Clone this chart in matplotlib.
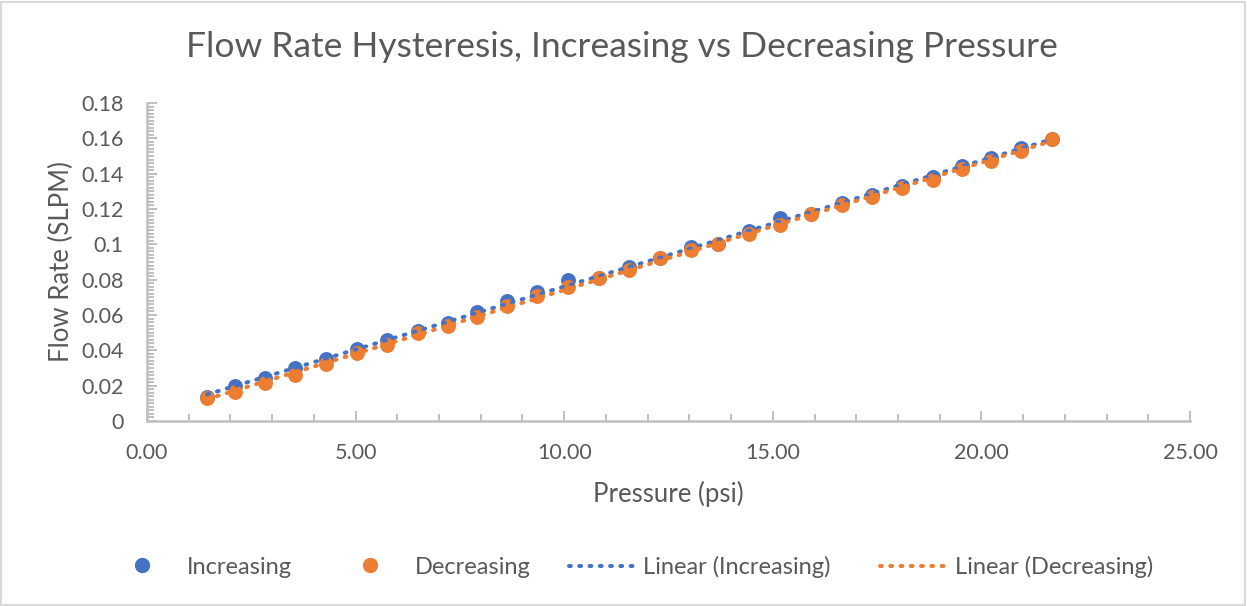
import numpy as np
import matplotlib.pyplot as plt
from matplotlib.ticker import MultipleLocator, FuncFormatter
from matplotlib.lines import Line2D
from matplotlib.patches import Rectangle

# readings
pressure = [1.44, 2.11, 2.83, 3.55, 4.29, 5.03, 5.75, 6.50, 7.21, 7.91,
            8.63, 9.35, 10.09, 10.83, 11.55, 12.30, 13.04, 13.69, 14.43, 15.17,
            15.92, 16.66, 17.38, 18.10, 18.84, 19.53, 20.23, 20.95, 21.69]
flow_inc = [0.0136, 0.0198, 0.0243, 0.0300, 0.0350, 0.0410, 0.0458, 0.0510, 0.0555, 0.0617,
            0.0680, 0.0730, 0.0798, 0.0810, 0.0873, 0.0925, 0.0987, 0.1002, 0.1075, 0.1147,
            0.1172, 0.1235, 0.1280, 0.1332, 0.1383, 0.1443, 0.1487, 0.1548, 0.1598]
flow_dec = [0.0130, 0.0164, 0.0215, 0.0262, 0.0320, 0.0385, 0.0430, 0.0500, 0.0540, 0.0590,
            0.0650, 0.0708, 0.0760, 0.0808, 0.0855, 0.0920, 0.0970, 0.1000, 0.1060, 0.1110,
            0.1170, 0.1220, 0.1270, 0.1320, 0.1364, 0.1426, 0.1473, 0.1530, 0.1596]

blue = '#4472C4'
orange = '#ED7D31'
txt = '#595959'
grey = '#BFBFBF'
dots = (0, (0.45, 2.1))

plt.rcParams['font.family'] = ['Lato', 'DejaVu Sans']

x = np.array(pressure)
fig = plt.figure(figsize=(12.47, 6.06), dpi=100)
fig.patches.append(Rectangle((0.001, 0.002), 0.997, 0.995, transform=fig.transFigure,
                             fill=False, edgecolor='#D9D9D9', linewidth=1.5))
ax = fig.add_axes([0.1179, 0.3053, 0.8364, 0.5247])

# trend lines (least squares, like excel's linear trendline)
xx = np.array([x.min(), x.max()])
for y, c in [(flow_inc, blue), (flow_dec, orange)]:
    k, b = np.polyfit(x, y, 1)
    ax.plot(xx, k * xx + b, color=c, linewidth=2.9, linestyle=dots,
            dash_capstyle='round', zorder=3)

ax.scatter(x, flow_inc, s=115, color=blue, zorder=2, linewidths=0)
ax.scatter(x, flow_dec, s=115, color=orange, zorder=2, linewidths=0)

ax.set_xlim(0, 25)
ax.set_ylim(0, 0.18)
ax.xaxis.set_major_locator(MultipleLocator(5))
ax.xaxis.set_minor_locator(MultipleLocator(1))
ax.yaxis.set_major_locator(MultipleLocator(0.02))
ax.yaxis.set_minor_locator(MultipleLocator(0.002))
ax.xaxis.set_major_formatter(FuncFormatter(lambda v, p: f'{v:.2f}'))
ax.yaxis.set_major_formatter(FuncFormatter(lambda v, p: f'{round(v, 2):g}'))

for s in ['top', 'right']:
    ax.spines[s].set_visible(False)
for s in ['left', 'bottom']:
    ax.spines[s].set_color(grey)
    ax.spines[s].set_linewidth(1.8)
ax.tick_params(which='both', direction='in', color=grey, width=1.4, labelcolor=txt, labelsize=15.5)
ax.tick_params(which='major', length=7)
ax.tick_params(which='minor', length=5)
ax.tick_params(axis='y', pad=17)
ax.tick_params(axis='x', pad=16)

ax.set_xlabel('Pressure (psi)', fontsize=18.5, color=txt, labelpad=13)
ax.set_ylabel('Flow Rate (SLPM)', fontsize=18.5, color=txt, labelpad=5)
fig.text(0.499, 0.922, 'Flow Rate Hysteresis, Increasing vs Decreasing Pressure',
         ha='center', va='center', fontsize=25.5, color=txt)

# legend: markers and trend lines as two pieces, spaced like the original
mk = [Line2D([], [], marker='o', linestyle='none', color=blue, markersize=10),
      Line2D([], [], marker='o', linestyle='none', color=orange, markersize=10)]
ln = [Line2D([], [], color=blue, linewidth=2.9, linestyle=dots, dash_capstyle='round'),
      Line2D([], [], color=orange, linewidth=2.9, linestyle=dots, dash_capstyle='round')]
common = dict(ncol=2, frameon=False, fontsize=17, labelcolor=txt, loc='center left',
              borderpad=0, borderaxespad=0)
fig.legend(mk, ['Increasing', 'Decreasing'], bbox_to_anchor=(0.1043, 0.064),
           handlelength=1.0, handletextpad=1.4, columnspacing=2.8, **common)
fig.legend(ln, ['Linear (Increasing)', 'Linear (Decreasing)'], bbox_to_anchor=(0.4563, 0.064),
           handlelength=3.0, handletextpad=0.15, columnspacing=2.1, **common)

fig.savefig('out.png', dpi=100)
